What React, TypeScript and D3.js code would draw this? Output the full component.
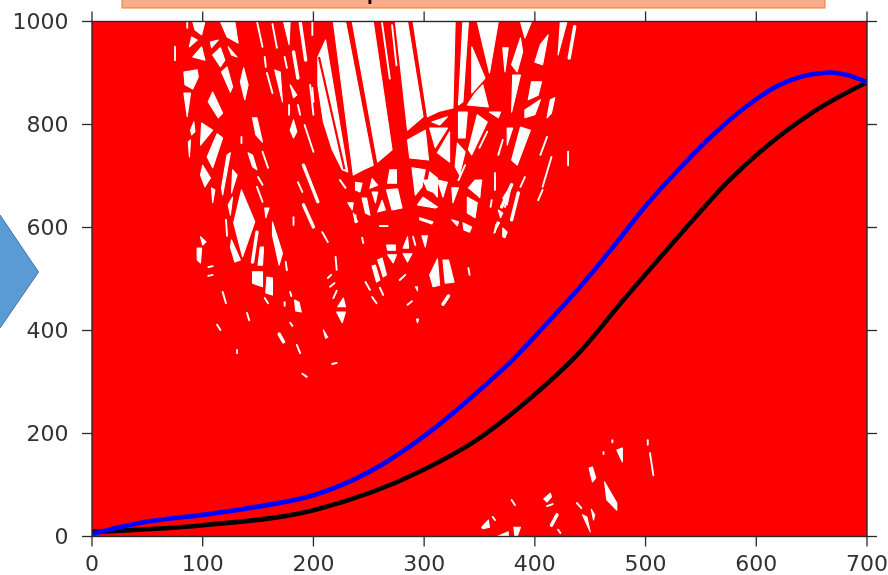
import React from "react";
import * as d3 from "d3";

// Axis values
const xTickValues = [0, 100, 200, 300, 400, 500, 600, 700];
const yTickValues = [0, 200, 400, 600, 800, 1000];

// The two highlighted curves [x, y]
const blackCurve: [number, number][] = [
  [0, 9], [100, 22], [200, 51], [300, 130], [350, 191], [394, 265], [441, 359], [480, 459], [519, 556],
  [543, 615], [573, 686], [609, 757], [652, 825], [700, 882],
];
const blueCurve: [number, number][] = [
  [0, 5], [50, 29], [100, 42], [150, 58], [200, 80], [250, 125], [300, 195], [350, 284], [380, 343], [411, 414],
  [441, 485], [471, 563], [501, 644], [531, 715], [561, 780], [591, 835], [621, 877], [652, 898], [667, 901], [682, 896], [700, 882],
];

// The red mass is too dense to separate into single lines, so it is drawn solid.
// Openings left between the dense red lines: flat x,y lists in data units
const openAreas: number[][] = [
  [91,1000,102,1000,99,974,93,984],[116,1000,129,1000,132,958,122,970],[107,960,114,964,108,949],[90,970,95,964,88,951],
  [91,931,99,951,102,925],[109,935,116,949,120,925,116,912],[123,951,131,931,126,935],[83,902,95,906,96,892,91,869,84,877],
  [117,902,122,912,127,873,125,863],[134,883,137,910,141,877,138,848],[83,861,89,861,86,815],[105,844,109,863,118,822,114,813],
  [89,789,92,805,93,786,90,780],[99,803,109,789,98,760],[87,766,89,770,88,737],[113,782,118,774,109,716,104,737],
  [100,721,107,696,102,679,98,702],[122,741,125,745,118,663,117,677],[127,712,131,702,126,667],[108,677,111,673,109,648],
  [145,813,149,813,154,766,148,780],[141,745,145,741,149,712,145,718],[173,1000,179,1000,178,955],[165,906,170,902,172,844],
  [179,877,185,857,182,852],[182,809,185,786,182,774,179,789],
  // central basin
  [204,931,211,964,231,708,226,712,217,751,209,805,204,877],[218,1000,229,1000,254,721,245,712,236,702],
  [235,1000,254,1000,271,751,258,727],[274,1000,285,1000,299,815,285,789],[290,1000,328,1000,326,832,314,826,303,815],
  [335,1000,340,1000,335,844,331,838],[348,1000,367,1000,359,900],[343,951,355,890,343,861],
  [285,770,301,789,304,731,287,735],[305,793,321,793,310,755],[307,805,321,815,314,799],[312,745,323,786,323,727],
  [331,824,339,824,337,774,331,774],[346,861,353,877,358,834,339,838],[348,819,357,805,343,741,340,751],
  [330,764,337,747,332,702,328,718],[359,824,369,824,367,813],[371,949,376,949,373,902],[387,1000,397,1000,391,968],
  [379,916,387,968,389,941,384,902],[405,955,412,974,407,916,400,921],[423,1000,429,1000,421,935],[397,883,406,883,403,857,394,848],
  [414,848,418,852,415,822,411,813],[380,896,387,896,379,824],[391,828,405,848,400,819,391,813],[387,795,396,789,384,721,379,731],
  [375,793,380,793,375,760],[371,657,379,683,375,644],
  [253,695,258,682,251,676],[269,712,275,712,275,686,267,686],[289,716,301,712,298,679,292,663],[305,708,312,696,312,659,303,683],
  // lower cells
  [266,673,276,675,280,638,271,634],[294,644,299,659,312,640,310,638],[299,692,308,692,310,667,303,673],[312,692,321,688,317,659],
  [325,677,331,677,326,648],[339,659,348,648,346,619,339,628],[340,677,346,692,352,692,350,659],[325,615,331,611,330,603],
  [335,609,343,601,341,591,336,595],[371,599,375,591,373,580,371,582],[366,611,368,609,363,589],[367,634,371,628,369,619],
  [296,619,308,611,307,607,296,615],[238,688,244,686,242,669,238,673],[253,669,258,669,256,648],[244,657,248,657,251,624,247,628],
  [262,653,265,634,258,630],[231,648,236,648,235,634],[236,628,240,611,238,609],[266,566,274,566,274,556,267,556],
  [281,560,285,582,286,560],[298,584,303,584,301,562],[267,547,275,547,272,531],[281,549,289,549,285,533],
  [258,537,262,541,266,508,263,504],[253,525,256,527,260,498,257,494],[305,508,312,539,314,488,308,485],[317,537,322,537,327,494,319,492],
  [292,485,294,485,294,477],[222,446,227,463,229,446],[221,436,229,436,226,415],[209,401,213,387,211,385],[293,422,295,422,294,415],
  // diamond group
  [135,673,147,611,136,543,128,609],[163,611,172,550,169,527,163,585],[126,576,134,537,129,533,125,562],[152,562,155,562,154,527,150,527],
  [123,644,127,659,125,624],[156,638,160,638,157,619],[98,582,103,572,100,566],[95,560,99,560,98,531,95,537],
  [145,514,154,514,154,485,145,492],[158,504,163,502,163,469,157,473],[183,459,187,455,189,436,184,438],
  // bottom cells
  [352,18,358,32,359,18,353,15],[366,0,376,9,376,0],[381,18,387,18,384,0,382,0],[408,73,414,84,415,77,411,67],
  [443,42,447,38,450,9],[451,53,454,42,453,32],[449,133,452,135,455,114,452,106],[463,106,474,65,474,51,465,71],[474,168,479,172,479,145],
];

// Narrow gaps as segments x1,y1,x2,y2
const narrowGaps: number[][] = [
  [154,747,159,716],[149,1000,154,951],[163,995,167,949],[156,931,157,912],[158,900,163,861],[174,931,176,910],
  [186,838,188,819],[192,799,200,747],[178,838,178,819],[199,871,200,844],[186,688,190,669],[135,776,135,764],[199,1000,199,974],
  [150,698,154,683],[149,679,154,650],[75,951,75,925],[86,1000,86,988],[371,770,367,741],[411,776,405,741],[357,786,350,755],
  [331,692,337,721],[364,706,364,673],[391,698,387,679],[350,686,350,659],[361,653,360,640],[403,653,407,673],[365,605,364,591],
  [373,640,376,663],[260,603,267,603],[224,692,229,677],[208,591,213,572],[244,580,245,570],[290,582,292,566],[340,521,341,508],
  [247,494,251,479],[260,483,263,469],[278,498,283,508],[253,465,257,453],[285,450,289,457],[218,463,221,477],[215,485,219,492],
  [213,502,216,508],[220,543,221,518],[182,620,182,605],[121,615,122,584],[105,523,109,525],[105,506,109,508],[118,475,121,453],
  [174,455,174,448],[179,475,180,467],[156,463,159,453],[175,533,176,517],[238,624,238,611],[113,411,116,401],[140,434,142,420],
  [179,415,181,409],[185,372,188,356],[131,362,131,356],[217,335,221,337],[190,316,194,310],[362,38,364,32],[379,71,382,61],
  [411,59,416,63],[421,13,423,7],[438,65,442,55],[470,187,470,183],[462,164,462,160],[430,747,430,721],[415,737,407,679],
  [504,162,507,119],[502,187,502,178],[262,997,269,889],[271,993,275,915],[197,877,200,819],
];
const wideGaps: number[][] = [
  [188,1000,193,925],[182,941,186,890],[191,721,204,650],[436,990,431,929],[385,667,379,615],[379,683,370,640],[191,644,200,601],
  [149,591,145,533],[169,393,173,378],[317,451,322,467],[415,22,420,42],
];
// A single red line visible across the left opening of the central basin
const redDividers: number[][] = [[205,931,228,713]];

const x = d3.scaleLinear().domain([0, 700]).range([92, 867]);
const y = d3.scaleLinear().domain([0, 1000]).range([536.5, 21.5]);
const curveLine = d3.line<[number, number]>().x((d) => x(d[0])).y((d) => y(d[1])).curve(d3.curveMonotoneX);
const straight = d3.line<[number, number]>().x((d) => x(d[0])).y((d) => y(d[1]));
const toPairs = (flat: number[]) => d3.range(0, flat.length, 2).map((i) => [flat[i], flat[i + 1]] as [number, number]);

const RED = "#ff0000";
const AXIS = "#2a2a2a";
const TEXT = "#333333";

export default function App() {
  return (
    <svg width={888} height={575} viewBox="0 0 888 575" style={{ position: "fixed", left: 0, top: 0, background: "#fff" }}>
      <defs>
        <clipPath id="plot"><rect x={x(0)} y={y(1000)} width={x(700) - x(0)} height={y(0) - y(1000)} /></clipPath>
        <filter id="soft" x="-5%" y="-5%" width="110%" height="110%"><feGaussianBlur stdDeviation="0.7" /></filter>
        <filter id="softer" x="-5%" y="-5%" width="110%" height="110%"><feGaussianBlur stdDeviation="0.45" /></filter>
      </defs>

      <rect x={122} y={-2} width={703} height={10} fill="#f7ac8a" stroke="#ed7d31" strokeWidth={1} />
      <text x={367} y={0} fontFamily="Liberation Sans" fontWeight="bold" fontSize={20} fill="#000">p</text>
      <path d="M-2,215 L0,215 L38.5,272 L0,328 L-2,328 Z" fill="#5b9bd5" stroke="#41719c" strokeWidth={1} />

      <g clipPath="url(#plot)">
        <rect x={x(0)} y={y(1000)} width={x(700) - x(0)} height={y(0) - y(1000)} fill={RED} />
        <g filter="url(#soft)">
          {openAreas.map((p, i) => <path key={i} d={straight(toPairs(p)) + "Z"} fill="#fff" stroke="#fff" strokeWidth={1.1} strokeLinejoin="round" />)}
          {narrowGaps.map((p, i) => <path key={i} d={straight(toPairs(p)) as string} fill="none" stroke="#fff" strokeWidth={1.9} strokeLinecap="round" />)}
          {wideGaps.map((p, i) => <path key={i} d={straight(toPairs(p)) as string} fill="none" stroke="#fff" strokeWidth={3.4} strokeLinecap="round" />)}
          {redDividers.map((p, i) => <path key={i} d={straight(toPairs(p)) as string} fill="none" stroke={RED} strokeWidth={2.2} />)}
        </g>
        <g filter="url(#softer)">
          <path d={curveLine(blackCurve) as string} fill="none" stroke="#000" strokeWidth={4.6} />
          <path d={curveLine(blueCurve) as string} fill="none" stroke="#0000ff" strokeWidth={4.6} />
        </g>
      </g>

      <g filter="url(#softer)">
        <rect x={x(0)} y={y(1000)} width={x(700) - x(0)} height={y(0) - y(1000)} fill="none" stroke={AXIS} strokeWidth={1.4} />
        {xTickValues.map((t) => (
          <g key={t}>
            <line x1={x(t)} x2={x(t)} y1={y(0)} y2={y(0) + 10} stroke={AXIS} strokeWidth={1.3} />
            <line x1={x(t)} x2={x(t)} y1={y(1000)} y2={y(1000) - 10} stroke={AXIS} strokeWidth={1.3} />
            <text x={x(t)} y={571} textAnchor="middle" fontFamily="DejaVu Sans" fontSize={22} fill={TEXT}>{t}</text>
          </g>
        ))}
        {yTickValues.map((t) => (
          <g key={t}>
            <line x1={x(0) - 10} x2={x(0)} y1={y(t)} y2={y(t)} stroke={AXIS} strokeWidth={1.3} />
            <line x1={x(700)} x2={x(700) + 10} y1={y(t)} y2={y(t)} stroke={AXIS} strokeWidth={1.3} />
            <text x={68.5} y={y(t) + 7} textAnchor="end" fontFamily="DejaVu Sans" fontSize={22} fill={TEXT}>{t}</text>
          </g>
        ))}
      </g>
    </svg>
  );
}
